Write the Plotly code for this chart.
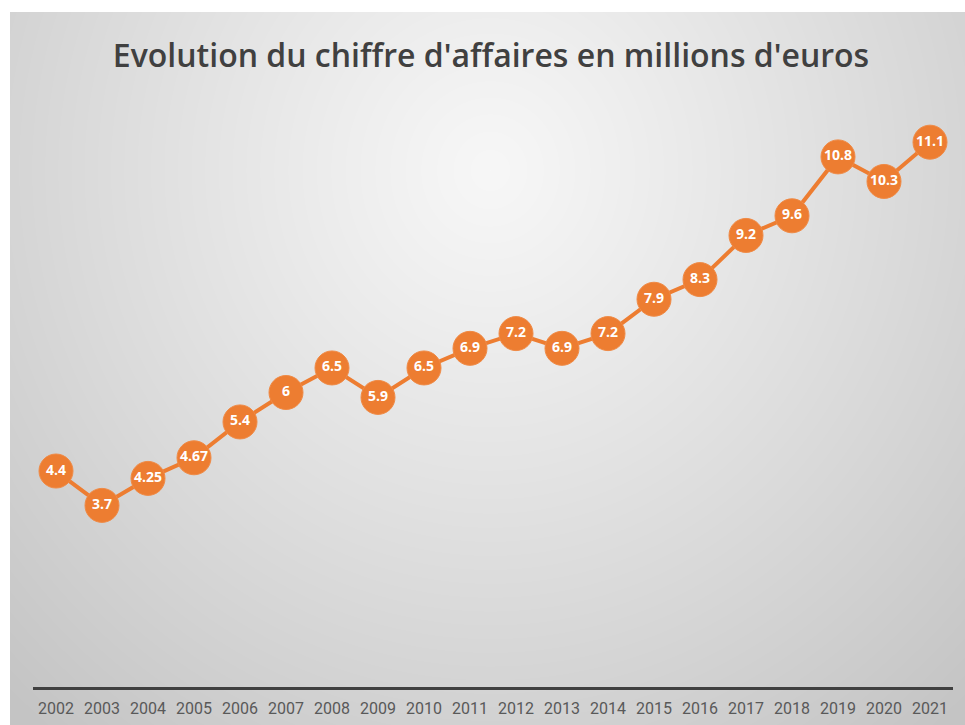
import base64, struct, zlib
import numpy as np
import plotly.graph_objects as go

years = [str(y) for y in range(2002, 2022)]
values = [4.4, 3.7, 4.25, 4.67, 5.4, 6, 6.5, 5.9, 6.5, 6.9, 7.2, 6.9, 7.2, 7.9, 8.3, 9.2, 9.6, 10.8, 10.3, 11.1]
labels = ["4.4", "3.7", "4.25", "4.67", "5.4", "6", "6.5", "5.9", "6.5", "6.9", "7.2", "6.9", "7.2", "7.9", "8.3", "9.2", "9.6", "10.8", "10.3", "11.1"]
title_text = "Evolution du chiffre d'affaires en millions d'euros"

W, H = 965, 725
# plot area in pixels
L, R, T, B = 33, 12, 98, 38
pw, ph = W - L - R, H - T - B

# radial gradient background image for chart area (from x=10,y=12 to W,H)
bx0, by0 = 10, 12
iw, ih = W - bx0, H - by0
yy, xx = np.mgrid[0:ih, 0:iw].astype(float)
cx, cy = 490 - bx0, 170 - by0
d = np.sqrt((xx - cx) ** 2 + ((yy - cy) * 0.95) ** 2)
t = np.clip(d / 700.0, 0, 1)
img = (247 - (247 - 196) * t ** 1.1).astype(np.uint8)
raw = b"".join(b"\x00" + img[r].tobytes() for r in range(ih))

def chunk(tag, data):
    c = struct.pack(">I", len(data)) + tag + data
    return c + struct.pack(">I", zlib.crc32(tag + data) & 0xffffffff)

png = b"\x89PNG\r\n\x1a\n" + chunk(b"IHDR", struct.pack(">IIBBBBB", iw, ih, 8, 0, 0, 0, 0)) \
      + chunk(b"IDAT", zlib.compress(raw, 9)) + chunk(b"IEND", b"")
src = "data:image/png;base64," + base64.b64encode(png).decode()

fig = go.Figure()
fig.add_trace(go.Scatter(
    x=years, y=values, text=labels,
    mode="lines+markers+text",
    textposition="middle center",
    line=dict(color="#ED7D31", width=4),
    marker=dict(size=34, color="#ED7D31", line=dict(color="#F08A45", width=1)),
    textfont=dict(color="white", size=14, family="Open Sans", weight="bold"),
    cliponaxis=False,
    hoverinfo="x+y",
))

fig.add_layout_image(dict(
    source=src, xref="paper", yref="paper",
    x=(bx0 - L) / pw, y=(H - B - by0) / ph,
    sizex=iw / pw, sizey=ih / ph,
    xanchor="left", yanchor="top", sizing="stretch", layer="below",
))

fig.update_layout(
    width=W, height=H,
    margin=dict(l=L, r=R, t=T, b=B),
    paper_bgcolor="white", plot_bgcolor="rgba(0,0,0,0)",
    showlegend=False,
    title=dict(text=title_text, x=(491) / W, xanchor="center", y=1 - 56 / H, yanchor="middle",
               font=dict(family="Open Sans", size=32, color="#404040", weight=600),
               automargin=False),
    xaxis=dict(type="category", range=[-0.5, 19.5], showgrid=False, zeroline=False,
               showline=True, linecolor="#404040", linewidth=3, ticks="",
               ticklabelstandoff=5, automargin=False,
               tickfont=dict(family="Roboto", size=16, color="#595959")),
    yaxis=dict(range=[0, 12], visible=False, showgrid=False, zeroline=False, automargin=False),
)

fig.write_html("out.html")
